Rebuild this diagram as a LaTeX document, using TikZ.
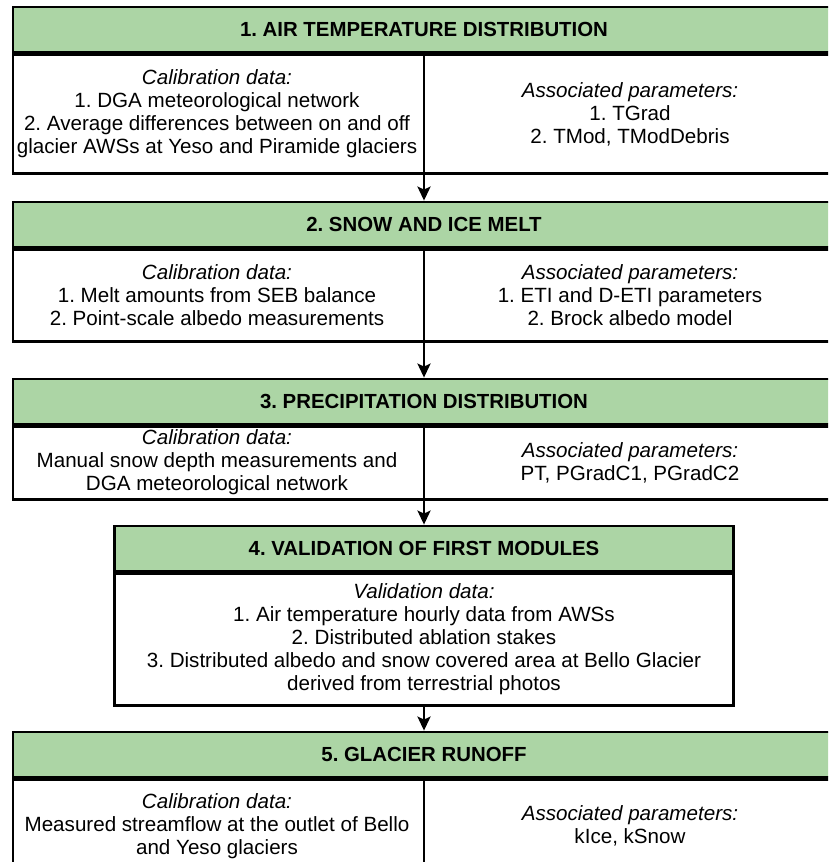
\documentclass[tikz,border=0pt]{standalone}
\usepackage{fontspec}
\setmainfont{Liberation Sans}
\usetikzlibrary{arrows.meta}
\definecolor{hdrgreen}{RGB}{172,213,165}
\frenchspacing

\begin{document}
\begin{tikzpicture}[x=1pt,y=-1pt,
  hdr/.style={draw=black, fill=hdrgreen, line width=2.8pt, minimum height=45pt, inner sep=0pt, font=\fontsize{20.4}{23}\selectfont\bfseries},
  bodybox/.style={draw=black, line width=2.8pt, inner sep=0pt},
  txt/.style={align=center, inner sep=0pt, font=\fontsize{20.6}{23}\selectfont},
  flow/.style={line width=2.8pt, -{Stealth[length=14pt,width=13pt,inset=3pt]}}]
\useasboundingbox (0,0) rectangle (828,862);
\clip (0,0) rectangle (828,862);
% module 1
\node[hdr, minimum width=822pt] (h1) at (424,29.5) {1. AIR TEMPERATURE DISTRIBUTION};
\node[bodybox, minimum width=822pt, minimum height=119pt, anchor=north] (b1) at (h1.south) {};
\node[txt] (cal1) at (217,114) {\textit{Calibration data:}\\1. DGA meteorological network\\2. Average differences between on and off\\glacier AWSs at Yeso and Piramide glaciers};
\node[txt] (par1) at (630,114) {\textit{Associated parameters:}\\1. TGrad\\2. TMod, TModDebris};
\draw[line width=2.8pt] (h1.south) -- (b1.south);
% module 2
\node[hdr, minimum width=822pt] (h2) at (424,224.5) {2. SNOW AND ICE MELT};
\node[bodybox, minimum width=822pt, minimum height=92pt, anchor=north] (b2) at (h2.south) {};
\node[txt] (cal2) at (217,295.5) {\textit{Calibration data:}\\1. Melt amounts from SEB balance\\2. Point-scale albedo measurements};
\node[txt] (par2) at (630,295.5) {\textit{Associated parameters:}\\1. ETI and D-ETI parameters\\2. Brock albedo model};
\draw[line width=2.8pt] (h2.south) -- (b2.south);
% module 3
\node[hdr, minimum width=822pt] (h3) at (424,401.5) {3. PRECIPITATION DISTRIBUTION};
\node[bodybox, minimum width=822pt, minimum height=73pt, anchor=north] (b3) at (h3.south) {};
\node[txt] (cal3) at (217,462.5) {\textit{Calibration data:}\\Manual snow depth measurements and\\DGA meteorological network};
\node[txt] (par3) at (630,462.5) {\textit{Associated parameters:}\\PT, PGradC1, PGradC2};
\draw[line width=2.8pt] (h3.south) -- (b3.south);
% module 4
\node[hdr, minimum width=619pt] (h4) at (424,548.5) {4. VALIDATION OF FIRST MODULES};
\node[bodybox, minimum width=619pt, minimum height=132pt, anchor=north] (b4) at (h4.south) {};
\node[txt] (val4) at (424,639.5) {\textit{Validation data:}\\1. Air temperature hourly data from AWSs\\2. Distributed ablation stakes\\3. Distributed albedo and snow covered area at Bello Glacier\\derived from terrestrial photos};
% module 5
\node[hdr, minimum width=822pt] (h5) at (424,754.5) {5. GLACIER RUNOFF};
\node[bodybox, minimum width=822pt, minimum height=92pt, anchor=north] (b5) at (h5.south) {};
\node[txt] (cal5) at (217,826) {\textit{Calibration data:}\\Measured streamflow at the outlet of Bello\\and Yeso glaciers};
\node[txt] (par5) at (630,826) {\textit{Associated parameters:}\\kIce, kSnow};
\draw[line width=2.8pt] (h5.south) -- (b5.south);
% links
\draw[flow] (b1.south) -- (h2.north);
\draw[flow] (b2.south) -- (h3.north);
\draw[flow] (b3.south) -- (h4.north);
\draw[flow] (b4.south) -- (h5.north);
\end{tikzpicture}
\end{document}
